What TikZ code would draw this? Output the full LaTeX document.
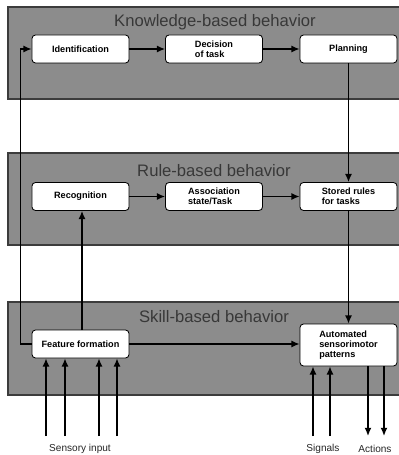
\documentclass[tikz,border=0pt]{standalone}
\usepackage{fontspec}
\setmainfont{Liberation Sans}
\usepackage{tikz}
\definecolor{bandgray}{HTML}{8C8C8C}
\definecolor{bandborder}{HTML}{3C3C3C}
\definecolor{titlegray}{HTML}{383838}
\usetikzlibrary{positioning, arrows.meta, shapes}
\tikzstyle{arrow} = [line width=1.2pt,->,>={Latex[length=7pt,width=6pt]}]

\begin{document}
\begin{tikzpicture}[x=0.03cm,y=-0.03cm]
                    \tikzstyle{every node}=[font=\fontsize{7.8}{8.6}\selectfont\bfseries]
                    \tikzstyle{band} = [draw=bandborder, fill=bandgray, line width=1.1pt]
                    \tikzstyle{title} = [text=titlegray, font=\fontsize{14.2}{16}\selectfont]
                    \tikzstyle{stepbox} = [rectangle, rounded corners=3pt, draw=black, fill=white, line width=0.7pt, minimum width=2.91cm, minimum height=0.84cm, align=left]
                    \tikzstyle{label} = [font=\fontsize{8.6}{10}\selectfont, text=black!85]

                    \useasboundingbox (0,0) rectangle (398,455);

                    % levels
                    \draw[band] (8,7) rectangle (402,99);
                    \draw[band] (8,153) rectangle (402,245);
                    \draw[band] (8,302) rectangle (402,395);
                    \node[title](kb) at (215,22) {Knowledge-based behavior};
                    \node[title](rb) at (214,171) {Rule-based behavior};
                    \node[title](sb) at (214,317) {Skill-based behavior};

                    % knowledge
                    \node[stepbox](ident) at (80.5,49) {Identification};
                    \node[stepbox](decision) at (214,49) {Decision\\of task};
                    \node[stepbox](planning) at (348.5,49) {Planning};

                    % rules
                    \node[stepbox](recog) at (80.5,196.5) {Recognition};
                    \node[stepbox](assoc) at (214,196.5) {Association\\state/Task};
                    \node[stepbox](stored) at (348.5,196.5) {Stored rules\\for tasks};

                    % skills
                    \node[stepbox](feature) at (80.5,344) {Feature formation};
                    \node[stepbox, minimum height=1.26cm](auto) at (348.5,345) {Automated\\sensorimotor\\patterns};

                    \draw[arrow] (ident) -- (decision);
                    \draw[arrow] (decision) -- (planning);
                    \draw[arrow] (recog) -- (assoc);
                    \draw[arrow] (assoc) -- (stored);
                    \draw[arrow] (planning) -- (stored);
                    \draw[arrow] (stored) -- (auto);
                    \draw[arrow] (feature) -- (feature -| auto.west);
                    \draw[arrow] (feature.north -| 82,0) -- (recog.south -| 82,0);
                    \draw[arrow] (feature.west) -- ++(-11,0) |- (ident.west);

                    % inputs and outputs
                    \foreach \x [count=\i] in {46,65,99,117} {
                        \coordinate (s\i) at (\x,436);
                        \draw[arrow] (s\i) -- (s\i |- feature.south);
                    }
                    \foreach \x [count=\i] in {313,330} {
                        \coordinate (g\i) at (\x,436);
                        \draw[arrow] (g\i) -- (g\i |- auto.south);
                    }
                    \foreach \x [count=\i] in {368,384} {
                        \coordinate (a\i) at (\x,436);
                        \draw[arrow] (a\i |- auto.south) -- (a\i);
                    }

                    \node[label](sensory) at (80,449) {Sensory input};
                    \node[label](signals) at (323,449) {Signals};
                    \node[label](actions) at (375,449) {Actions};
\end{tikzpicture}
\end{document}
